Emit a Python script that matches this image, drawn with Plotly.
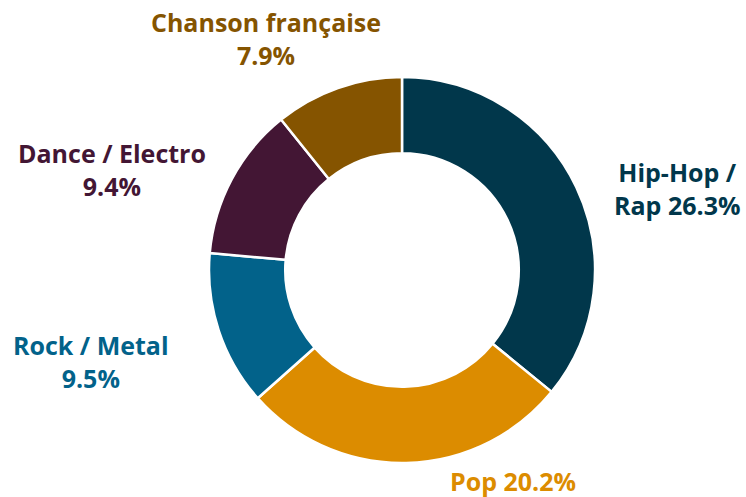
import plotly.graph_objects as go

# Music genre shares (percent)
genres = ["Hip-Hop / Rap", "Pop", "Rock / Metal", "Dance / Electro", "Chanson française"]
shares = [26.3, 20.2, 9.5, 9.4, 7.9]
colors = ["#01374B", "#DC8C00", "#02628A", "#431634", "#855400"]

W, H = 746, 497
cx, cy, r = 402, 270, 193  # donut centre and outer radius, in pixels

fig = go.Figure(
    go.Pie(
        labels=genres,
        values=shares,
        sort=False,
        direction="clockwise",
        rotation=0,
        hole=0.605,
        marker=dict(colors=colors, line=dict(color="white", width=2.5)),
        textinfo="none",
        hoverinfo="label+value",
        domain=dict(
            x=[(cx - r) / W, (cx + r) / W],
            y=[(H - cy - r) / H, (H - cy + r) / H],
        ),
        showlegend=False,
    )
)

# label centres, in pixels from the top-left corner
label_pos = {
    "Hip-Hop / Rap": (677, 188),
    "Pop": (513, 481),
    "Rock / Metal": (91, 361),
    "Dance / Electro": (112, 169),
    "Chanson française": (266, 39),
}


def label_text(name, value):
    val = f"{value:.1f}%"
    if name == "Hip-Hop / Rap":
        return f"Hip-Hop /<br>Rap {val}"
    if name == "Pop":
        return f"{name} {val}"
    return f"{name}<br>{val}"


for name, value, col in zip(genres, shares, colors):
    px, py = label_pos[name]
    fig.add_annotation(
        x=px / W,
        y=1 - py / H,
        xref="paper",
        yref="paper",
        xanchor="center",
        yanchor="middle",
        text=f"<b>{label_text(name, value)}</b>",
        showarrow=False,
        align="center",
        font=dict(family="Open Sans", size=25, color=col),
    )

fig.update_layout(
    width=W,
    height=H,
    margin=dict(l=0, r=0, t=0, b=0),
    paper_bgcolor="white",
    plot_bgcolor="white",
)

fig.write_html("out.html")
